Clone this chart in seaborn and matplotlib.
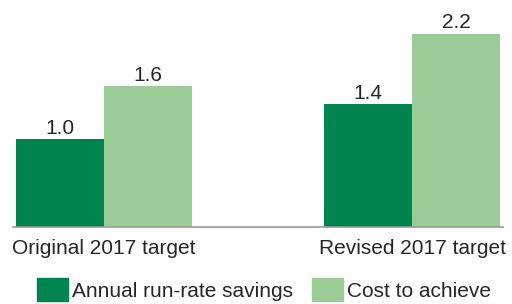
import pandas as pd
import seaborn as sns
import matplotlib.pyplot as plt

groups = ['Original 2017 target', 'Revised 2017 target']
series = ['Annual run-rate savings', 'Cost to achieve']
savings = [1.0, 1.4]
cost = [1.6, 2.2]

df = pd.DataFrame({
    'group': groups * 2,
    'series': [series[0]] * 2 + [series[1]] * 2,
    'value': savings + cost,
})

sns.set_style('white')
plt.rcParams['font.family'] = ['Liberation Sans', 'DejaVu Sans']
fs = 15

fig = plt.figure(figsize=(5.12, 3.04), dpi=100)
ax = fig.add_axes([13 / 512, (304 - 226.7) / 304, 490 / 512, 226.7 / 304])

palette = ['#00844f', '#9bcc98']
sns.barplot(data=df, x='group', y='value', hue='series', palette=palette,
            width=0.571, saturation=1, linewidth=0, ax=ax, legend=False)

for cont in ax.containers:
    ax.bar_label(cont, fmt='%.1f', fontsize=fs, padding=1)

ax.set_xlim(-0.295, 1.295)
ax.set_ylim(0, 2.585)
ax.set_xlabel('')
ax.set_ylabel('')
ax.set_yticks([])
ax.tick_params(axis='x', length=0, pad=9, labelsize=fs)
for s in ['top', 'right', 'left']:
    ax.spines[s].set_visible(False)
ax.spines['bottom'].set_color('#999999')
ax.spines['bottom'].set_linewidth(1.2)

handles = [plt.Rectangle((0, 0), 1, 1, color=c) for c in palette]
fig.legend(handles, series, loc='lower center', bbox_to_anchor=(0.516, -0.052), ncol=2,
           frameon=False, fontsize=fs, handlelength=1.5, handleheight=1.3,
           handletextpad=0.2, columnspacing=0.9)

fig.savefig('out.png', dpi=100)
